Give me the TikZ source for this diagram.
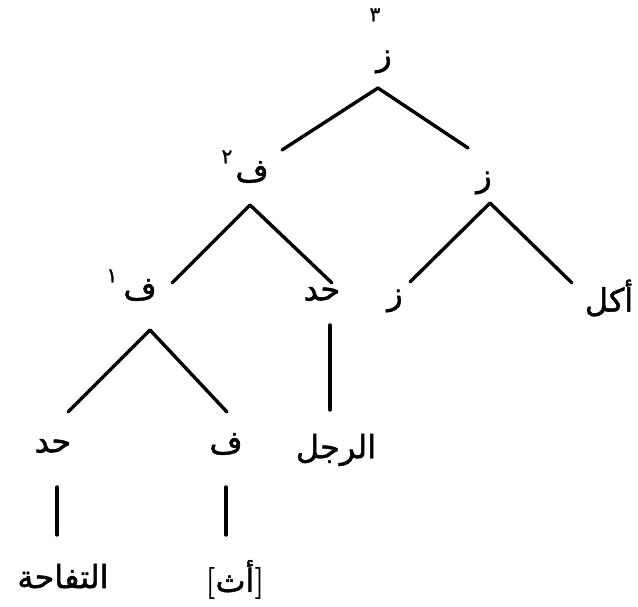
\documentclass[tikz,border=0pt]{standalone}
\usepackage{fontspec}
\newfontfamily\arabicfont[Script=Arabic,FakeBold=1.5]{DejaVu Sans}
\TeXXeTstate=1
\usetikzlibrary{calc}
\newcommand{\ar}[1]{{\arabicfont\beginR #1\endR}}

\begin{document}
\begin{tikzpicture}[x=1pt,y=-1pt,line join=round,line cap=round,line width=3.4pt,
  lbl/.style={font=\fontsize{32}{36}\selectfont,inner sep=0pt},
  bar/.style={font=\fontsize{20}{24}\selectfont,inner sep=0pt}]
\useasboundingbox (0,0) rectangle (638,607);
% labels
\node[lbl] (zpp) at (384,62) {\ar{ز}};
\node[bar] (zpp-i) at (375,15) {\ar{٣}};
\node[lbl] (fpp) at (252,172) {\ar{ف}};
\node[bar] (fpp-i) at (227,157) {\ar{٢}};
\node[lbl] (zp) at (484,183) {\ar{ز}};
\node[lbl] (fp) at (140,290) {\ar{ف}};
\node[bar] (fp-i) at (112,276) {\ar{١}};
\node[lbl] (hd) at (322,294) {\ar{حد}};
\node[lbl] (z) at (395,301) {\ar{ز}};
\node[lbl] (akl) at (609,298) {\ar{أكل}};
\node[lbl] (hd2) at (53,446) {\ar{حد}};
\node[lbl] (f) at (226,444) {\ar{ف}};
\node[lbl] (rajul) at (336,450) {\ar{الرجل}};
\node[lbl] (tuffaha) at (63,576) {\ar{التفاحة}};
\node[lbl] (athar) at (235,580) {\textbf{[}\ar{أث}\textbf{]}};
% ends of the branches
\coordinate (zpp-a) at (378,88);
\coordinate (fpp-a) at (250,205);
\coordinate (zp-a) at (490,203);
\coordinate (fp-a) at (150,330);
\coordinate (hd-a) at (330,325);
\coordinate (hd2-a) at (57,487);
\coordinate (f-a) at (226,487);
\coordinate (fpp-e) at (282,150);
\coordinate (zp-e) at (468,148);
\coordinate (fp-e) at (172,283);
\coordinate (hd-e) at (332,283);
\coordinate (z-e) at (410,282);
\coordinate (akl-e) at (572,283);
\coordinate (hd2-e) at (68,412);
\coordinate (f-e) at (227,412);
\coordinate (rajul-e) at (330,410);
\coordinate (tuffaha-e) at (57,535);
\coordinate (athar-e) at (226,535);
\foreach \a/\b in {zpp-a/fpp-e,zpp-a/zp-e,fpp-a/fp-e,fpp-a/hd-e,zp-a/z-e,zp-a/akl-e,
  fp-a/hd2-e,fp-a/f-e,hd-a/rajul-e,hd2-a/tuffaha-e,f-a/athar-e}{\draw (\a)--(\b);}
\end{tikzpicture}
\end{document}
